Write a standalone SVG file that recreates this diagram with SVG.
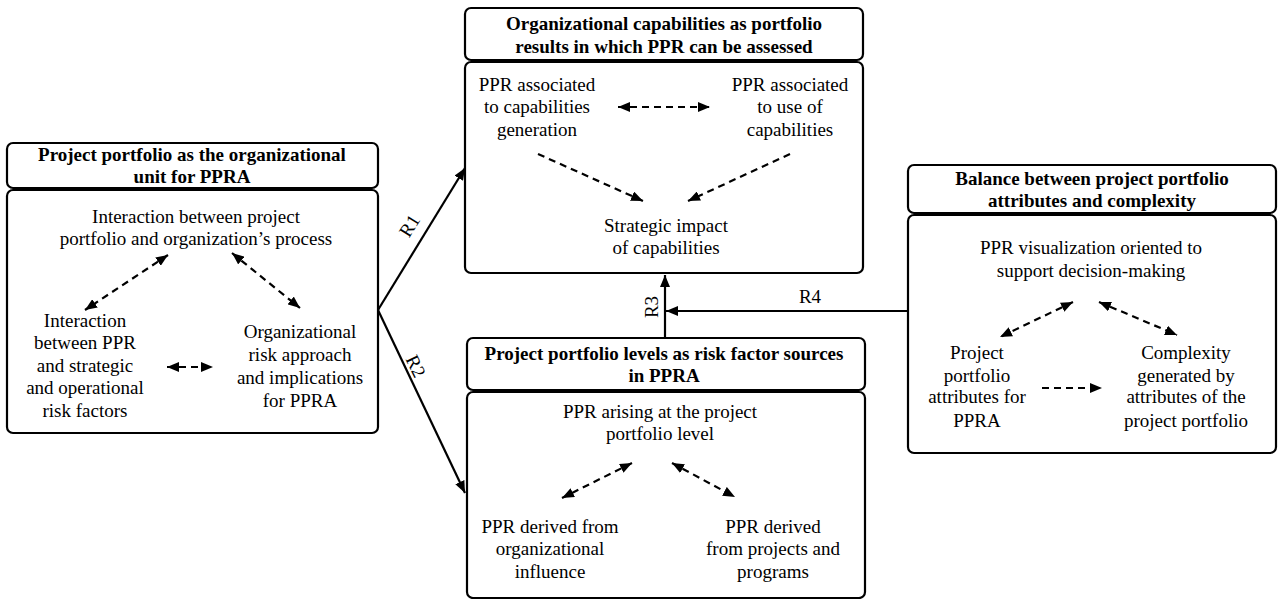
<svg xmlns="http://www.w3.org/2000/svg" width="1278" height="599" viewBox="0 0 1278 599">
<defs>
<style>
.box{fill:#fff;stroke:#000;stroke-width:2.2}
.h{font-family:"Liberation Serif","Times New Roman",serif;font-size:19px;font-weight:bold;text-anchor:middle;fill:#000}
.t{font-family:"Liberation Serif","Times New Roman",serif;font-size:19px;text-anchor:middle;fill:#000}
.d{fill:none;stroke:#000;stroke-width:2.2;stroke-dasharray:7 5;marker-end:url(#ah)}
.dd{fill:none;stroke:#000;stroke-width:2.2;stroke-dasharray:7 5;marker-start:url(#ah);marker-end:url(#ah)}
.c{fill:none;stroke:#000;stroke-width:2.2;marker-end:url(#ah)}
</style>
<marker id="ah" viewBox="0 0 12 10" refX="12" refY="5" markerWidth="12" markerHeight="10" markerUnits="userSpaceOnUse" orient="auto-start-reverse">
<path d="M0,0 L12,5 L0,10 z" fill="#000"/>
</marker>
</defs>
<rect width="1278" height="599" fill="#fff"/>

<g id="connectors">
<path class="c" d="M378,310 L465,168"/>
<path class="c" d="M378,310 L465,493"/>
<path class="c" d="M665,338 L665,275"/>
<path class="c" d="M908,311 L666,311"/>
<text class="t" transform="translate(415,229) rotate(-58)">R1</text>
<text class="t" transform="translate(410,369) rotate(64)">R2</text>
<text class="t" transform="translate(658,307) rotate(-90)">R3</text>
<text class="t" x="810" y="303">R4</text>
</g>

<g id="node-left">
<rect class="box" x="7" y="143" width="371" height="45" rx="6"/>
<rect class="box" x="7" y="190" width="371" height="243" rx="6"/>
<text class="h" x="192" y="161">Project portfolio as the organizational</text>
<text class="h" x="192" y="183">unit for PPRA</text>
<text class="t" x="196" y="223">Interaction between project</text>
<text class="t" x="196" y="245">portfolio and organization’s process</text>
<text class="t" x="85" y="327">Interaction</text>
<text class="t" x="85" y="349">between PPR</text>
<text class="t" x="85" y="372">and strategic</text>
<text class="t" x="85" y="394">and operational</text>
<text class="t" x="85" y="417">risk factors</text>
<text class="t" x="300" y="338">Organizational</text>
<text class="t" x="300" y="361">risk approach</text>
<text class="t" x="300" y="384">and implications</text>
<text class="t" x="300" y="407">for PPRA</text>
<path class="dd" d="M168,255 L85,310"/>
<path class="dd" d="M232,253 L300,308"/>
<path class="dd" d="M167,367 L213,367"/>
</g>

<g id="node-top">
<rect class="box" x="465" y="8" width="398" height="52" rx="6"/>
<rect class="box" x="465" y="62" width="398" height="211" rx="6"/>
<text class="h" x="664" y="30">Organizational capabilities as portfolio</text>
<text class="h" x="664" y="53">results in which PPR can be assessed</text>
<text class="t" x="537" y="91">PPR associated</text>
<text class="t" x="537" y="113">to capabilities</text>
<text class="t" x="537" y="136">generation</text>
<text class="t" x="790" y="91">PPR associated</text>
<text class="t" x="790" y="113">to use of</text>
<text class="t" x="790" y="136">capabilities</text>
<text class="t" x="666" y="232">Strategic impact</text>
<text class="t" x="666" y="254">of capabilities</text>
<path class="dd" d="M618,107 L710,107"/>
<path class="d" d="M538,154 L643,201"/>
<path class="d" d="M790,154 L688,201"/>
</g>

<g id="node-bottom">
<rect class="box" x="467" y="338" width="398" height="52" rx="6"/>
<rect class="box" x="467" y="392" width="398" height="206" rx="6"/>
<text class="h" x="664" y="360">Project portfolio levels as risk factor sources</text>
<text class="h" x="664" y="382">in PPRA</text>
<text class="t" x="660" y="418">PPR arising at the project</text>
<text class="t" x="660" y="440">portfolio level</text>
<path class="dd" d="M632,463 L562,498"/>
<path class="dd" d="M672,463 L735,497"/>
<text class="t" x="550" y="533">PPR derived from</text>
<text class="t" x="550" y="555">organizational</text>
<text class="t" x="550" y="578">influence</text>
<text class="t" x="773" y="533">PPR derived</text>
<text class="t" x="773" y="555">from projects and</text>
<text class="t" x="773" y="578">programs</text>
</g>

<g id="node-right">
<rect class="box" x="908" y="165" width="368" height="48" rx="6"/>
<rect class="box" x="908" y="215" width="368" height="238" rx="6"/>
<text class="h" x="1092" y="185">Balance between project portfolio</text>
<text class="h" x="1092" y="207">attributes and complexity</text>
<text class="t" x="1091" y="254">PPR visualization oriented to</text>
<text class="t" x="1091" y="277">support decision-making</text>
<path class="dd" d="M1073,302 L1000,337"/>
<path class="dd" d="M1099,302 L1177,335"/>
<text class="t" x="977" y="359">Project</text>
<text class="t" x="977" y="382">portfolio</text>
<text class="t" x="977" y="403">attributes for</text>
<text class="t" x="977" y="427">PPRA</text>
<text class="t" x="1186" y="359">Complexity</text>
<text class="t" x="1186" y="382">generated by</text>
<text class="t" x="1186" y="403">attributes of the</text>
<text class="t" x="1186" y="427">project portfolio</text>
<path class="d" d="M1042,388 L1102,388"/>
</g>
</svg>
